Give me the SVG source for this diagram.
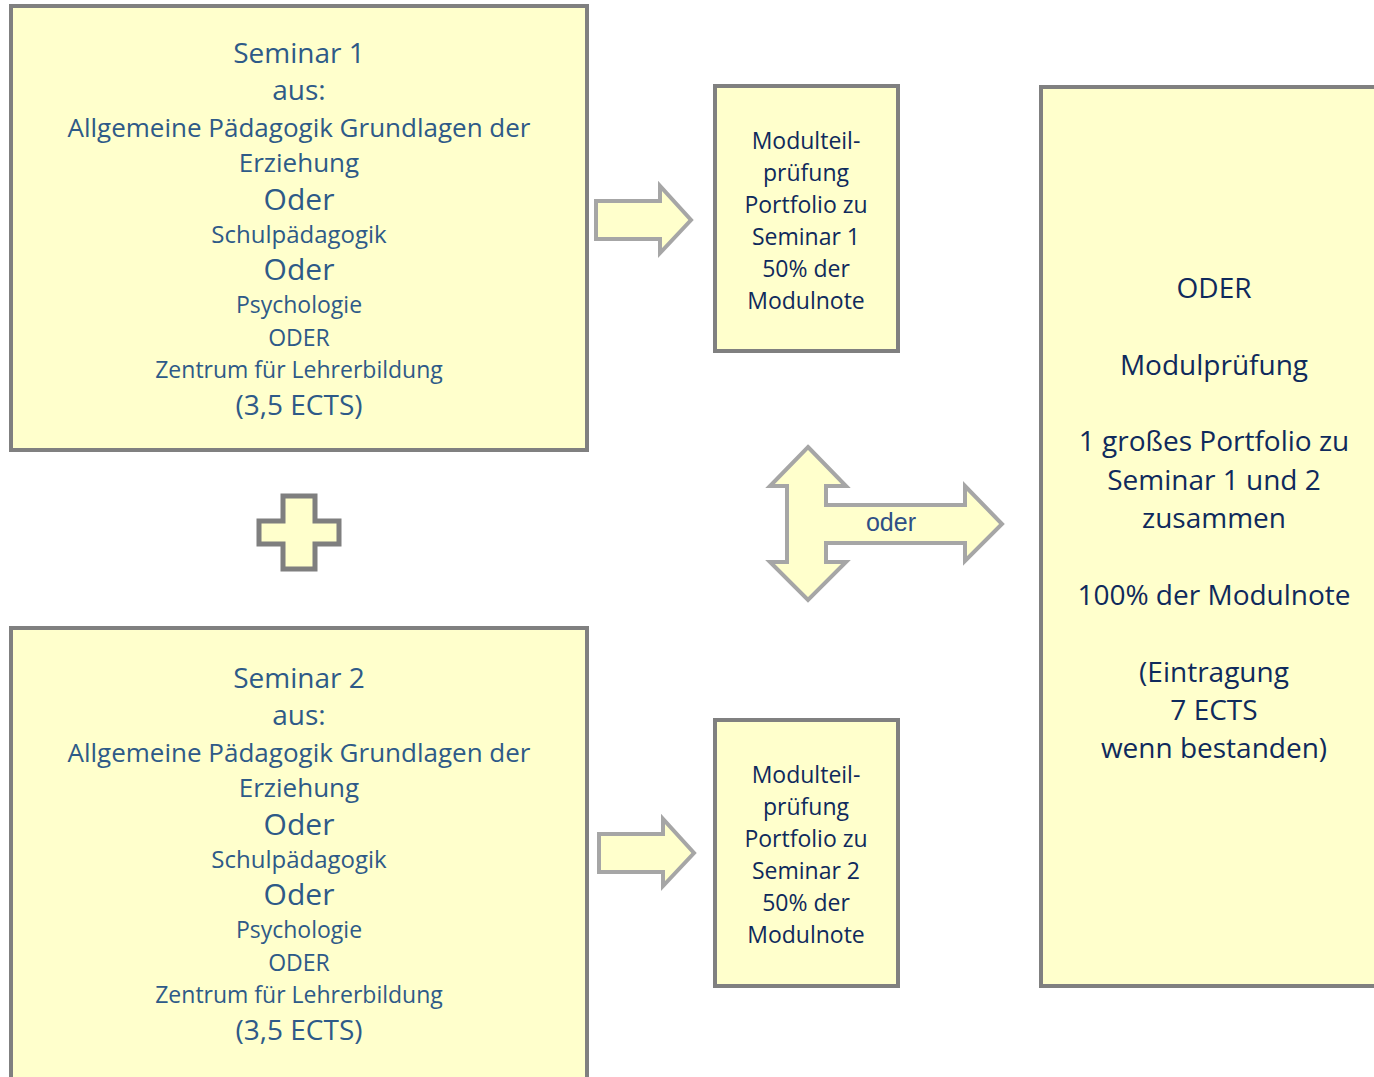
<svg xmlns="http://www.w3.org/2000/svg" width="1374" height="1077" viewBox="0 0 1374 1077">
<style>
.box{fill:#FFFFCC;stroke:#808080;stroke-width:4}
.arr{fill:#FFFFCC;stroke:#A6A6A6;stroke-width:4;stroke-linejoin:miter}
.plus{fill:#FFFFCC;stroke:#7F7F7F;stroke-width:5}
text{font-family:"Open Sans","Noto Sans","DejaVu Sans",sans-serif;text-anchor:middle}
.l{fill:#2E5A88}
.n{fill:#0F2A5C}
</style>
<rect width="1374" height="1077" fill="#FFFFFF"/>
<g id="connectors">
<path class="arr" d="M596,201 H660 V186 L691,220 L660,253 V239 H596 Z"/>
<path class="arr" d="M599,834 H663 V819 L694,853 L663,886 V872 H599 Z"/>
<path class="arr" d="M808,447 L846,486 H826 V505 H965 V486 L1002,524 L965,561 V543 H826 V562 H846 L808,600 L770,562 H787 V486 H770 Z"/>
<text x="891" y="531" style="font-family:'Liberation Sans',Arial,sans-serif;font-size:25px;fill:#2F4F86">oder</text>
</g>
<g id="seminar1">
<rect class="box" x="11" y="6" width="576" height="444"/>
<text class="l" x="299" y="63" font-size="28">Seminar 1</text>
<text class="l" x="299" y="100" font-size="28">aus:</text>
<text class="l" x="299" y="137" font-size="26">Allgemeine Pädagogik Grundlagen der</text>
<text class="l" x="299" y="172" font-size="26">Erziehung</text>
<text class="l" x="299" y="210" font-size="30">Oder</text>
<text class="l" x="299" y="243" font-size="24">Schulpädagogik</text>
<text class="l" x="299" y="280" font-size="30">Oder</text>
<text class="l" x="299" y="313" font-size="23">Psychologie</text>
<text class="l" x="299" y="346" font-size="23">ODER</text>
<text class="l" x="299" y="378" font-size="23">Zentrum für Lehrerbildung</text>
<text class="l" x="299" y="415" font-size="28">(3,5 ECTS)</text>
</g>
<g id="plus">
<path class="plus" d="M283,496 H315 V521 H339 V544 H315 V569 H283 V544 H259 V521 H283 Z"/>
</g>
<g id="seminar2">
<rect class="box" x="11" y="628" width="576" height="460"/>
<text class="l" x="299" y="688" font-size="28">Seminar 2</text>
<text class="l" x="299" y="725" font-size="28">aus:</text>
<text class="l" x="299" y="762" font-size="26">Allgemeine Pädagogik Grundlagen der</text>
<text class="l" x="299" y="797" font-size="26">Erziehung</text>
<text class="l" x="299" y="835" font-size="30">Oder</text>
<text class="l" x="299" y="868" font-size="24">Schulpädagogik</text>
<text class="l" x="299" y="905" font-size="30">Oder</text>
<text class="l" x="299" y="938" font-size="23">Psychologie</text>
<text class="l" x="299" y="971" font-size="23">ODER</text>
<text class="l" x="299" y="1003" font-size="23">Zentrum für Lehrerbildung</text>
<text class="l" x="299" y="1040" font-size="28">(3,5 ECTS)</text>
</g>
<g id="teil1">
<rect class="box" x="715" y="86" width="183" height="265"/>
<text class="n" x="806" y="149" font-size="23">Modulteil-</text>
<text class="n" x="806" y="181" font-size="23">prüfung</text>
<text class="n" x="806" y="213" font-size="23">Portfolio zu</text>
<text class="n" x="806" y="245" font-size="23">Seminar 1</text>
<text class="n" x="806" y="277" font-size="23">50% der</text>
<text class="n" x="806" y="309" font-size="23">Modulnote</text>
</g>
<g id="teil2">
<rect class="box" x="715" y="720" width="183" height="266"/>
<text class="n" x="806" y="783" font-size="23">Modulteil-</text>
<text class="n" x="806" y="815" font-size="23">prüfung</text>
<text class="n" x="806" y="847" font-size="23">Portfolio zu</text>
<text class="n" x="806" y="879" font-size="23">Seminar 2</text>
<text class="n" x="806" y="911" font-size="23">50% der</text>
<text class="n" x="806" y="943" font-size="23">Modulnote</text>
</g>
<g id="modulpruefung">
<rect class="box" x="1041" y="87" width="345" height="899"/>
<text class="n" x="1214" y="298" font-size="28">ODER</text>
<text class="n" x="1214" y="375" font-size="28">Modulprüfung</text>
<text class="n" x="1214" y="451" font-size="28">1 großes Portfolio zu</text>
<text class="n" x="1214" y="490" font-size="28">Seminar 1 und 2</text>
<text class="n" x="1214" y="528" font-size="28">zusammen</text>
<text class="n" x="1214" y="605" font-size="28">100% der Modulnote</text>
<text class="n" x="1214" y="682" font-size="28">(Eintragung</text>
<text class="n" x="1214" y="720" font-size="28">7 ECTS</text>
<text class="n" x="1214" y="758" font-size="28">wenn bestanden)</text>
</g>
</svg>
